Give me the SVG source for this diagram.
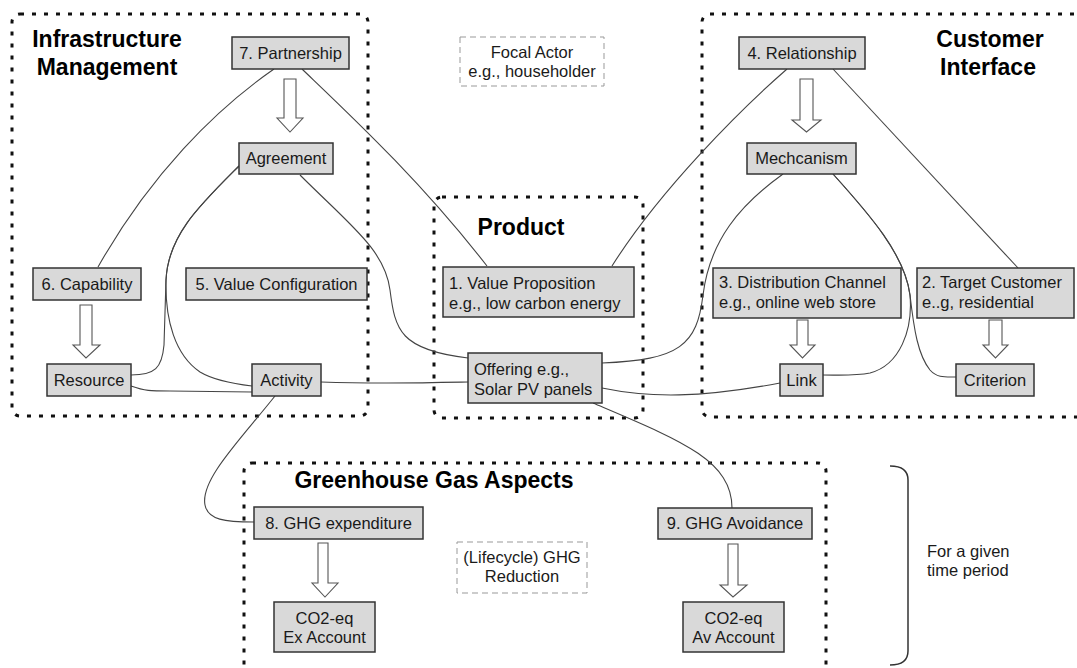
<svg xmlns="http://www.w3.org/2000/svg" width="1077" height="668" viewBox="0 0 1077 668">
  <defs>
    <style>
      .area { fill: none; stroke: #111; stroke-width: 3; stroke-dasharray: 4 8; stroke-linecap: butt; }
      .note { fill: #fff; stroke: #999; stroke-width: 1; stroke-dasharray: 6 4; }
      .box { fill: #d9d9d9; stroke: #333; stroke-width: 1.5; }
      .t { font-family: "Liberation Sans", Arial, sans-serif; font-size: 16.5px; fill: #1a1a1a; }
      .c { text-anchor: middle; }
      .title { font-family: "Liberation Sans", Arial, sans-serif; font-size: 23px; font-weight: bold; fill: #000; text-anchor: middle; }
      .link { fill: none; stroke: #444; stroke-width: 1.1; }
      .flow { fill: #fff; stroke: #555; stroke-width: 1.1; }
    </style>
  </defs>

  <!-- grouping areas -->
  <g id="area-infrastructure">
    <rect class="area" x="12" y="14" width="356" height="402" rx="8"/>
    <text class="title" x="107" y="47">Infrastructure</text>
    <text class="title" x="107" y="75">Management</text>
  </g>
  <g id="area-customer">
    <rect class="area" x="702" y="14" width="390" height="403" rx="8"/>
    <text class="title" x="990" y="47">Customer</text>
    <text class="title" x="988" y="75">Interface</text>
  </g>
  <g id="area-product">
    <rect class="area" x="434" y="197" width="209" height="221" rx="8"/>
    <text class="title" x="521" y="235">Product</text>
  </g>
  <g id="area-ghg">
    <rect class="area" x="244" y="463" width="582" height="230" rx="8"/>
    <text class="title" x="434" y="488">Greenhouse Gas Aspects</text>
  </g>

  <!-- connectors -->
  <g id="connectors">
    <path class="link" d="M274,69 C215,110 150,175 98,267"/>
    <path class="link" d="M302,69 C350,115 420,180 487,266"/>
    <path class="link" d="M239,166 C200,205 168,235 166,280 L164,345 C162,368 155,375 131,375"/>
    <path class="link" d="M239,166 C200,205 168,235 166,280 C165,320 175,355 200,372 C215,381 235,384 252,386"/>
    <path class="link" d="M300,175 C350,225 385,250 390,290 C395,330 400,350 468,358"/>
    <path class="link" d="M131,386 C145,391 150,391 170,391 L252,392"/>
    <path class="link" d="M321,382 C380,384 420,383 468,382"/>
    <path class="link" d="M275,396 C240,440 200,480 205,505 C208,520 225,522 254,522"/>
    <path class="link" d="M787,69 C740,110 660,190 612,266"/>
    <path class="link" d="M833,69 L1018,268"/>
    <path class="link" d="M783,174 C740,205 710,240 703,295 C697,345 680,360 602,363"/>
    <path class="link" d="M833,174 C870,215 905,255 910,295 C913,330 900,365 870,373 C855,376 840,375 823,375"/>
    <path class="link" d="M833,174 C870,215 905,255 910,295 C914,330 918,355 930,370 C937,378 945,377 956,377"/>
    <path class="link" d="M602,388 C650,398 700,398 780,383"/>
    <path class="link" d="M593,403 C680,440 732,460 732,508"/>
    <!-- hollow flow arrows -->
    <path class="flow" d="M284,79 H296 V118 H303 L290,132 L277,118 H284 Z"/>
    <path class="flow" d="M800,79 H813 V120 H821 L806.5,132 L792,120 H800 Z"/>
    <path class="flow" d="M80,305 H92 V345 H100 L86,358 L73,345 H80 Z"/>
    <path class="flow" d="M797,320 H808 V345 H815 L802.5,358 L790,345 H797 Z"/>
    <path class="flow" d="M989,320 H1002 V345 H1008 L995.5,358 L983,345 H989 Z"/>
    <path class="flow" d="M318,543 H328 V583 H338 L325,597 L312,583 H318 Z"/>
    <path class="flow" d="M728,544 H738 V585 H747 L733,597 L720,585 H728 Z"/>
  </g>

  <!-- nodes -->
  <g id="n7-partnership">
    <rect class="box" x="232" y="37" width="117" height="32"/>
    <text class="t c" x="290.5" y="59">7. Partnership</text>
  </g>
  <g id="n-agreement">
    <rect class="box" x="239" y="143" width="94" height="31"/>
    <text class="t c" x="286" y="164">Agreement</text>
  </g>
  <g id="n6-capability">
    <rect class="box" x="33" y="268" width="108" height="32"/>
    <text class="t c" x="87" y="290">6. Capability</text>
  </g>
  <g id="n5-value-configuration">
    <rect class="box" x="186" y="268" width="181" height="32"/>
    <text class="t c" x="276.5" y="290">5. Value Configuration</text>
  </g>
  <g id="n-resource">
    <rect class="box" x="47" y="364" width="84" height="32"/>
    <text class="t c" x="89" y="386">Resource</text>
  </g>
  <g id="n-activity">
    <rect class="box" x="252" y="364" width="69" height="32"/>
    <text class="t c" x="286.5" y="386">Activity</text>
  </g>
  <g id="n-focal-actor">
    <rect class="note" x="460" y="37" width="144" height="49"/>
    <text class="t c" x="532" y="58">Focal Actor</text>
    <text class="t c" x="532" y="77">e.g., householder</text>
  </g>
  <g id="n1-value-proposition">
    <rect class="box" x="443" y="267" width="191" height="50"/>
    <text class="t" x="449" y="289">1. Value Proposition</text>
    <text class="t" x="449" y="309">e.g., low carbon energy</text>
  </g>
  <g id="n-offering">
    <rect class="box" x="468" y="353" width="134" height="50"/>
    <text class="t" x="474" y="375">Offering e.g.,</text>
    <text class="t" x="474" y="395">Solar PV panels</text>
  </g>
  <g id="n4-relationship">
    <rect class="box" x="739" y="37" width="126" height="32"/>
    <text class="t c" x="802" y="59">4. Relationship</text>
  </g>
  <g id="n-mechanism">
    <rect class="box" x="747" y="143" width="109" height="31"/>
    <text class="t c" x="801.5" y="164">Mechcanism</text>
  </g>
  <g id="n3-distribution-channel">
    <rect class="box" x="713" y="268" width="188" height="50"/>
    <text class="t" x="719" y="288">3. Distribution Channel</text>
    <text class="t" x="719" y="308">e.g., online web store</text>
  </g>
  <g id="n2-target-customer">
    <rect class="box" x="917" y="268" width="157" height="50"/>
    <text class="t" x="922" y="288">2. Target Customer</text>
    <text class="t" x="922" y="308">e..g, residential</text>
  </g>
  <g id="n-link">
    <rect class="box" x="780" y="364" width="43" height="32"/>
    <text class="t c" x="801.5" y="386">Link</text>
  </g>
  <g id="n-criterion">
    <rect class="box" x="956" y="364" width="78" height="32"/>
    <text class="t c" x="995" y="386">Criterion</text>
  </g>
  <g id="n8-ghg-expenditure">
    <rect class="box" x="254" y="507" width="169" height="32"/>
    <text class="t c" x="338.5" y="529">8. GHG expenditure</text>
  </g>
  <g id="n-ex-account">
    <rect class="box" x="274" y="602" width="101" height="50"/>
    <text class="t c" x="324.5" y="624">CO2-eq</text>
    <text class="t c" x="324.5" y="643">Ex Account</text>
  </g>
  <g id="n-ghg-reduction">
    <rect class="note" x="457" y="542" width="130" height="51"/>
    <text class="t c" x="522" y="563">(Lifecycle) GHG</text>
    <text class="t c" x="522" y="582">Reduction</text>
  </g>
  <g id="n9-ghg-avoidance">
    <rect class="box" x="658" y="508" width="154" height="31"/>
    <text class="t c" x="735" y="529">9. GHG Avoidance</text>
  </g>
  <g id="n-av-account">
    <rect class="box" x="683" y="602" width="101" height="50"/>
    <text class="t c" x="733.5" y="624">CO2-eq</text>
    <text class="t c" x="733.5" y="643">Av Account</text>
  </g>

  <!-- time period bracket -->
  <g id="time-period">
    <path d="M890,466 Q908,466 908,480 L908,651 Q908,665 890,665" fill="none" stroke="#333" stroke-width="1.5"/>
    <text class="t" x="927" y="557">For a given</text>
    <text class="t" x="927" y="576">time period</text>
  </g>
</svg>
